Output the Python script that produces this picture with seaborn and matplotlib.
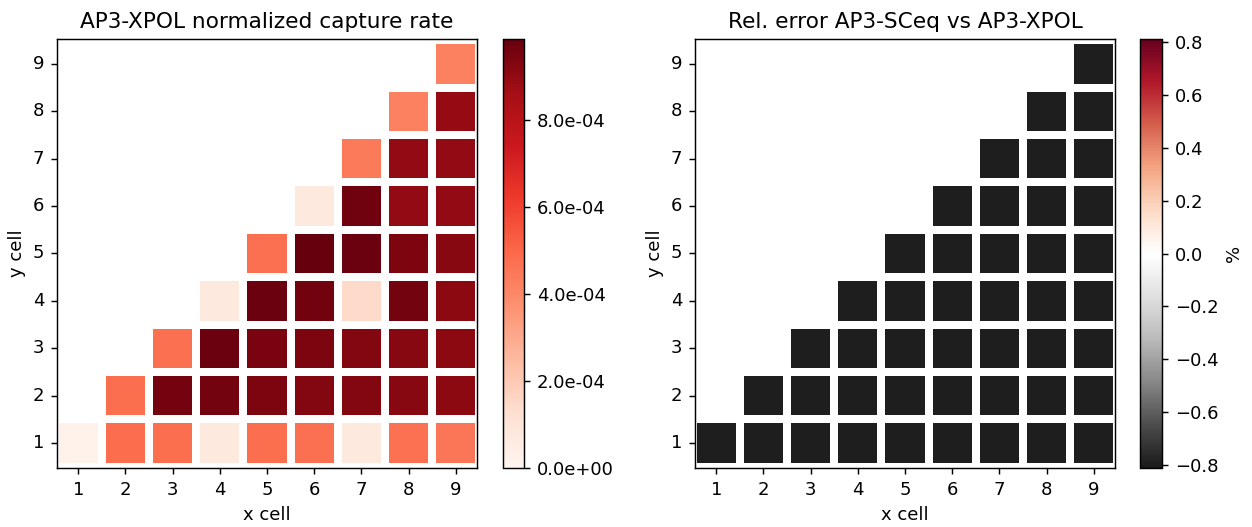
import numpy as np
import pandas as pd
import matplotlib
matplotlib.use("Agg")
import matplotlib.pyplot as plt
import seaborn as sns

# Cell indices
x_cells = [1, 2, 3, 4, 5, 6, 7, 8, 9]
y_cells = [1, 2, 3, 4, 5, 6, 7, 8, 9]

# AP3-XPOL normalized capture rate, one list per y row (cells x = y .. 9)
rate_y1 = [0.2e-4, 4.85e-4, 4.8e-4, 0.7e-4, 4.8e-4, 4.75e-4, 0.7e-4, 4.7e-4, 4.55e-4]
rate_y2 = [4.8e-4, 9.56e-4, 9.6e-4, 9.4e-4, 9.3e-4, 9.3e-4, 9.2e-4, 9.1e-4]
rate_y3 = [4.75e-4, 9.76e-4, 9.5e-4, 9.4e-4, 9.3e-4, 9.2e-4, 9.1e-4]
rate_y4 = [0.7e-4, 9.76e-4, 9.66e-4, 1.45e-4, 9.6e-4, 9.1e-4]
rate_y5 = [4.75e-4, 9.86e-4, 9.76e-4, 9.4e-4, 9.2e-4]
rate_y6 = [0.7e-4, 9.7e-4, 9.0e-4, 9.0e-4]
rate_y7 = [4.45e-4, 9.0e-4, 9.0e-4]
rate_y8 = [4.2e-4, 8.9e-4]
rate_y9 = [4.2e-4]

# Relative error AP3-SCeq vs AP3-XPOL [%], one list per y row (cells x = y .. 9)
err_y1 = [-0.80, -0.80, -0.80, -0.80, -0.80, -0.80, -0.80, -0.80, -0.80]
err_y2 = [-0.80, -0.80, -0.80, -0.80, -0.80, -0.80, -0.80, -0.80]
err_y3 = [-0.80, -0.80, -0.80, -0.80, -0.80, -0.80, -0.80]
err_y4 = [-0.80, -0.80, -0.80, -0.80, -0.80, -0.80]
err_y5 = [-0.80, -0.80, -0.80, -0.80, -0.80]
err_y6 = [-0.80, -0.80, -0.80, -0.80]
err_y7 = [-0.80, -0.80, -0.80]
err_y8 = [-0.80, -0.80]
err_y9 = [-0.80]

rate_rows = [rate_y1, rate_y2, rate_y3, rate_y4, rate_y5, rate_y6, rate_y7, rate_y8, rate_y9]
err_rows = [err_y1, err_y2, err_y3, err_y4, err_y5, err_y6, err_y7, err_y8, err_y9]


def to_grid(rows):
    n = len(x_cells)
    grid = np.full((n, n), np.nan)
    for i, row in enumerate(rows):
        grid[i, n - len(row):] = row
    return pd.DataFrame(grid, index=y_cells, columns=x_cells)


rate_df = to_grid(rate_rows)
err_df = to_grid(err_rows)

W, H, DPI = 1252, 527, 130
fig = plt.figure(figsize=(W / DPI, H / DPI), dpi=DPI)


def frac(left, top, right, bottom):
    return [left / W, 1 - bottom / H, (right - left) / W, (bottom - top) / H]


ax1 = fig.add_axes(frac(57, 39, 477, 468))
cax1 = fig.add_axes(frac(503, 39, 524, 468))
ax2 = fig.add_axes(frac(695, 39, 1115, 468))
cax2 = fig.add_axes(frac(1140, 39, 1162, 468))

sns.heatmap(rate_df, ax=ax1, cbar_ax=cax1, cmap="Reds", vmin=0.0,
            linewidths=4.3, linecolor="white", square=False,
            cbar_kws={"format": "%.1e", "ticks": [0, 2e-4, 4e-4, 6e-4, 8e-4]})
sns.heatmap(err_df, ax=ax2, cbar_ax=cax2, cmap="RdGy_r", vmin=-0.813, vmax=0.813,
            linewidths=4.3, linecolor="white", square=False,
            cbar_kws={"ticks": [-0.8, -0.6, -0.4, -0.2, 0.0, 0.2, 0.4, 0.6, 0.8]})

titles = ["AP3-XPOL normalized capture rate", "Rel. error AP3-SCeq vs AP3-XPOL"]
for ax, title in zip([ax1, ax2], titles):
    ax.invert_yaxis()
    ax.set_xlim(0.05, 8.95)
    ax.set_ylim(-0.03, 9.03)
    ax.set_title(title, fontsize=12)
    ax.set_xlabel("x cell", fontsize=10)
    ax.set_ylabel("y cell", fontsize=10)
    ax.tick_params(axis="both", labelsize=10, length=3.5, width=0.8, color="black")
    ax.set_yticklabels(y_cells, rotation=0)
    ax.set_xticklabels(x_cells, rotation=0)
    for s in ax.spines.values():
        s.set_visible(True)
        s.set_color("black")
        s.set_linewidth(0.8)

for ax, cax in [(ax1, cax1), (ax2, cax2)]:
    cb = ax.collections[0].colorbar
    cb.outline.set_visible(True)
    cb.outline.set_linewidth(0.8)
    cb.outline.set_edgecolor("black")
    cax.tick_params(labelsize=10, length=3.5, width=0.8)

cax2.set_ylabel("%", fontsize=10)

fig.savefig("out.png", dpi=DPI, facecolor="white")
